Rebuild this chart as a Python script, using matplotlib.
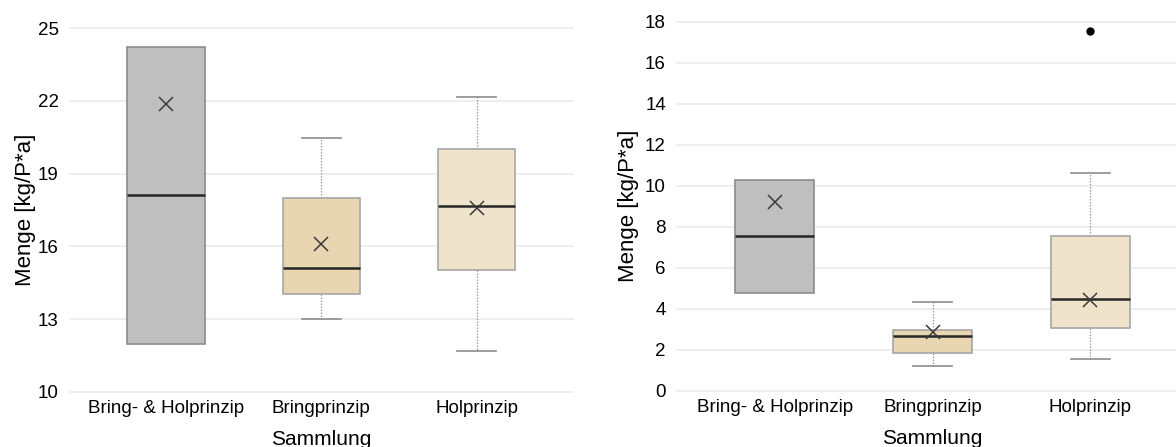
import numpy as np
import matplotlib
matplotlib.use("Agg")
import matplotlib.pyplot as plt

plt.rcParams['font.family'] = ['Liberation Sans', 'DejaVu Sans']

# Kategorien
kategorien = ["Bring- & Holprinzip", "Bringprinzip", "Holprinzip"]
farben = ["#bfbfbf", "#e8d6b1", "#f0e3cb"]
randfarben = ["#8c8c8c", "#a6a6a6", "#a6a6a6"]

# linkes Diagramm: Kennwerte je Sammlung
links_min = [11.96, 13.0, 11.66]
links_q1 = [11.96, 14.05, 15.03]
links_median = [18.1, 15.11, 17.66]
links_q3 = [24.22, 18.01, 20.0]
links_max = [24.22, 20.46, 22.17]
links_mittel = [21.86, 16.11, 17.59]
links_ausreisser = [[], [], []]
links_yticks = [10, 13, 16, 19, 22, 25]

# rechtes Diagramm
rechts_min = [4.78, 1.2, 1.53]
rechts_q1 = [4.78, 1.85, 3.06]
rechts_median = [7.55, 2.67, 4.47]
rechts_q3 = [10.28, 2.96, 7.56]
rechts_max = [10.28, 4.34, 10.6]
rechts_mittel = [9.22, 2.88, 4.42]
rechts_ausreisser = [[], [], [17.53]]
rechts_yticks = [0, 2, 4, 6, 8, 10, 12, 14, 16, 18]


def zeichne(ax, mins, q1s, meds, q3s, maxs, mittel, ausr, yticks, ypad):
    stats = []
    for i in range(len(kategorien)):
        stats.append(dict(label=kategorien[i], whislo=mins[i], q1=q1s[i],
                          med=meds[i], q3=q3s[i], whishi=maxs[i],
                          mean=mittel[i], fliers=ausr[i]))
    bp = ax.bxp(stats, positions=range(len(kategorien)), widths=0.5,
                patch_artist=True, showmeans=True,
                medianprops=dict(color="#262626", lw=1.8),
                meanprops=dict(marker="x", markersize=10, markeredgecolor="#3a3a3a",
                               markeredgewidth=1.1),
                whiskerprops=dict(color="#9a9a9a", lw=0.9, linestyle=(0, (1.2, 1.2))),
                capprops=dict(color="#8c8c8c", lw=1.2),
                flierprops=dict(marker="o", markersize=5, markerfacecolor="black",
                                markeredgecolor="black"))
    for i, box in enumerate(bp["boxes"]):
        box.set_facecolor(farben[i])
        box.set_edgecolor(randfarben[i])
        box.set_linewidth(1.2)
        box.set_zorder(3)
    for ln in bp["medians"] + bp["means"] + bp["fliers"]:
        ln.set_zorder(4)
    # keine Antennen, wenn min = q1 und max = q3
    for i in range(len(kategorien)):
        if mins[i] == q1s[i] and maxs[i] == q3s[i]:
            for c in bp["caps"][2 * i:2 * i + 2]:
                c.set_visible(False)
            for w in bp["whiskers"][2 * i:2 * i + 2]:
                w.set_visible(False)

    ax.set_xlim(-0.62, 2.62)
    ax.set_ylim(yticks[0], yticks[-1])
    ax.set_yticks(yticks)
    ax.yaxis.grid(True, color="#ebebeb", lw=1.2)
    for g in ax.get_ygridlines():
        g.set_clip_on(False)
    ax.set_axisbelow(True)
    for s in ax.spines.values():
        s.set_visible(False)
    ax.tick_params(axis="both", length=0, labelsize=13.5, colors="black")
    ax.tick_params(axis="y", pad=8)
    ax.tick_params(axis="x", pad=6)
    ax.set_xticks(range(len(kategorien)))
    ax.set_xticklabels(kategorien)
    ax.set_xlabel("Sammlung", fontsize=15, labelpad=9.5)
    ax.set_ylabel("Menge [kg/P*a]", fontsize=16, labelpad=ypad)


fig = plt.figure(figsize=(11.76, 4.47), dpi=100)
ax1 = fig.add_axes([0.0595, 0.1237, 0.4275, 0.813])
ax2 = fig.add_axes([0.5757, 0.126, 0.4345, 0.8255])

zeichne(ax1, links_min, links_q1, links_median, links_q3, links_max,
        links_mittel, links_ausreisser, links_yticks, 1)
zeichne(ax2, rechts_min, rechts_q1, rechts_median, rechts_q3, rechts_max,
        rechts_mittel, rechts_ausreisser, rechts_yticks, 4)

fig.savefig("out.png", dpi=100)
